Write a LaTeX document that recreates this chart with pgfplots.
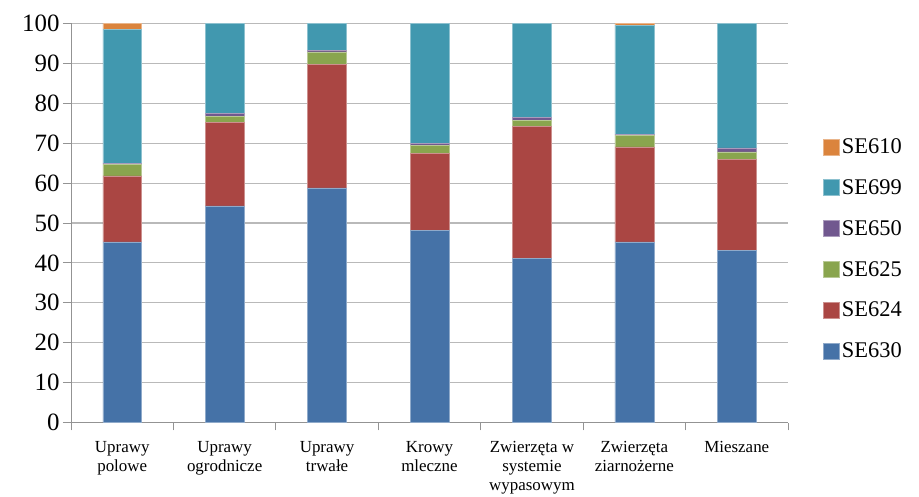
\documentclass[border=0pt]{standalone}
\usepackage{fontspec}
\setmainfont{Liberation Serif}
\usepackage{pgfplots}
\usepackage{pgfplotstable}
\pgfplotsset{compat=1.18}
\definecolor{cSEa}{HTML}{4572A7}
\definecolor{cSEb}{HTML}{AA4643}
\definecolor{cSEc}{HTML}{89A54E}
\definecolor{cSEd}{HTML}{71588F}
\definecolor{cSEe}{HTML}{4198AF}
\definecolor{cSEf}{HTML}{DB843D}
\pgfplotstableread{
x SEa SEb SEc SEd SEe SEf
0 45.3 16.5 2.8 0.4 33.6 1.4
1 54.3 20.9 1.6 0.6 22.6 0.0
2 58.8 30.9 3.2 0.3 6.8 0.0
3 48.2 19.3 1.9 0.6 30.0 0.0
4 41.2 33.0 1.6 0.7 23.5 0.0
5 45.3 23.8 2.9 0.3 27.3 0.4
6 43.1 22.8 1.9 1.0 31.2 0.0
}\datatable
\begin{document}
\begin{tikzpicture}
\begin{axis}[
  scale only axis, width=717bp, height=399bp,
  ybar stacked, bar width=0.38,
  xmin=-0.5, xmax=6.5, ymin=0, ymax=100,
  ytick={0,10,...,100},
  xtick={-0.5,0.5,...,6.5},
  xticklabels={},
  extra x ticks={0,1,2,3,4,5,6},
  extra x tick labels={{Uprawy\\polowe},{Uprawy\\ogrodnicze},{Uprawy\\trwałe},{Krowy\\mleczne},{Zwierzęta w\\systemie\\wypasowym},{Zwierzęta\\ziarnożerne},{Mieszane}},
  extra x tick style={major tick length=0pt, grid=none},
  tick align=outside,
  major tick length=8bp,
  axis x line*=bottom, axis y line*=left,
  ymajorgrids,
  grid style={gray!55, line width=1.2pt},
  axis line style={gray!85, line width=1pt},
  tick style={gray!85, line width=1pt},
  /pgf/number format/assume math mode=true,
  yticklabel style={font=\fontsize{25}{30}\selectfont},
  xticklabel style={font=\fontsize{17}{19}\selectfont, align=center, text depth=0pt, yshift=-15bp},
  legend style={at={(1.045,0.722)}, anchor=north west, draw=none, fill=none,
    font=\fontsize{22.5}{27}\selectfont, row sep=20.5bp,
    /tikz/every even column/.append style={column sep=3bp}},
  legend cell align=left,
  legend image code/.code={\fill[#1] (0bp,-8bp) rectangle (16bp,8bp);},
  reverse legend,
]
\addplot[fill=cSEa, draw=cSEa!60!white, line width=0.5pt] table[x=x,y=SEa]{\datatable};
\addplot[fill=cSEb, draw=cSEb!60!white, line width=0.5pt] table[x=x,y=SEb]{\datatable};
\addplot[fill=cSEc, draw=cSEc!60!white, line width=0.5pt] table[x=x,y=SEc]{\datatable};
\addplot[fill=cSEd, draw=cSEd!60!white, line width=0.5pt] table[x=x,y=SEd]{\datatable};
\addplot[fill=cSEe, draw=cSEe!60!white, line width=0.5pt] table[x=x,y=SEe]{\datatable};
\addplot[fill=cSEf, draw=cSEf!60!white, line width=0.5pt] table[x=x,y=SEf]{\datatable};
\legend{SE630,SE624,SE625,SE650,SE699,SE610}
\end{axis}
\path (current axis.south west) ++(-71bp,-74.5bp) rectangle ++(919bp,497bp);
\end{tikzpicture}
\end{document}
